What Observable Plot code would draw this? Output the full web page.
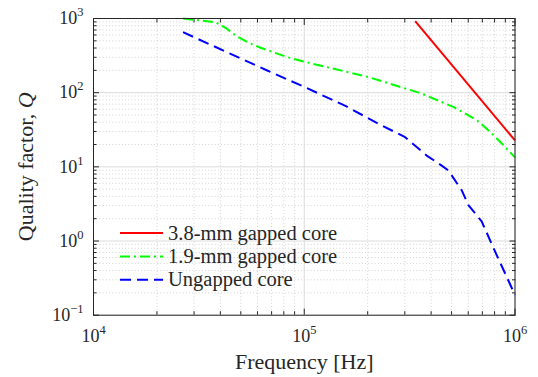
<!DOCTYPE html>
<html><head><meta charset="utf-8">
<script src="https://cdn.jsdelivr.net/npm/d3@7"></script>
<script src="https://cdn.jsdelivr.net/npm/@observablehq/plot@0.6"></script>
<style>body{margin:0;background:#fff;}</style>
</head><body><div id="chart"></div>
<script>
// ---- data ----
const redF = [336e3, 1e6];
const redQ = [920, 22.7];
const greenF = [26.6e3, 31.2e3, 37.9e3, 42.3e3, 47.2e3, 53.8e3, 62e3, 83.3e3, 99.2e3, 202e3, 360e3, 512.6e3, 661.6e3, 765e3, 854e3, 1e6];
const greenQ = [1000, 949, 891, 750, 590, 480, 403, 301, 263, 162, 97.5, 63.8, 42.2, 29.4, 21.5, 13.4];
const blueF = [26.6e3, 66.7e3, 99.2e3, 158.6e3, 225e3, 301e3, 381e3, 449e3, 483e3, 559e3, 601e3, 696e3, 805e3, 1e6];
const blueQ = [654, 199, 121, 65.2, 38.1, 25.1, 14.2, 10.4, 8.94, 4.81, 3.05, 1.82, 0.718, 0.187];
const seriesNames = ["3.8-mm gapped core", "1.9-mm gapped core", "Ungapped core"];

const xMajor = [1e4, 1e5, 1e6];
const xTickLabels = ["10^4", "10^5", "10^6"];
const yMajor = [0.1, 1, 10, 100, 1000];
const yTickLabels = ["10^-1", "10^0", "10^1", "10^2", "10^3"];
const minorMult = [2, 3, 4, 5, 6, 7, 8, 9];
const xMinor = xMajor.slice(0, -1).flatMap(d => minorMult.map(k => k * d));
const yMinor = yMajor.slice(0, -1).flatMap(d => minorMult.map(k => k * d));

const toRows = (F, Q) => F.map((f, i) => ({f, q: Q[i]}));
const styles = [
  {color: "#ff0000", dash: null},
  {color: "#00ff00", dash: "10,4,2,4"},
  {color: "#0000ff", dash: "11,6"}
];
const seriesRows = [toRows(redF, redQ), toRows(greenF, greenQ), toRows(blueF, blueQ)];

const FONT = "Liberation Serif";
const AX = "#262626";

const tickOnly = (k, anchor, ticks, size) =>
  (k === "x" ? Plot.axisX : Plot.axisY)(ticks, {anchor, tickSize: -size, tickFormat: () => "", label: null, stroke: AX, strokeWidth: 1});

const chart = Plot.plot({
  width: 538, height: 377,
  marginLeft: 93, marginRight: 23.5, marginTop: 18, marginBottom: 62.3,
  style: {fontFamily: FONT, fontSize: "18px", color: AX, background: "white"},
  x: {type: "log", domain: [1e4, 1e6], axis: null},
  y: {type: "log", domain: [0.1, 1000], axis: null},
  marks: [
    Plot.gridX(xMinor, {stroke: "#c8c8c8", strokeOpacity: 1, strokeWidth: 0.8, strokeDasharray: "1,2.2"}),
    Plot.gridY(yMinor, {stroke: "#c8c8c8", strokeOpacity: 1, strokeWidth: 0.8, strokeDasharray: "1,2.2"}),
    Plot.gridX(xMajor, {stroke: "#dcdcdc", strokeOpacity: 1, strokeWidth: 1}),
    Plot.gridY(yMajor, {stroke: "#dcdcdc", strokeOpacity: 1, strokeWidth: 1}),
    ...seriesRows.map((rows, i) => Plot.line(rows, {
      x: "f", y: "q", stroke: styles[i].color, strokeWidth: 2,
      strokeDasharray: styles[i].dash, strokeLinecap: "butt"
    })),
    Plot.frame({stroke: AX, strokeWidth: 1}),
    tickOnly("x", "bottom", xMajor, 6), tickOnly("x", "top", xMajor, 6),
    tickOnly("x", "bottom", xMinor, 3.5), tickOnly("x", "top", xMinor, 3.5),
    tickOnly("y", "left", yMajor, 6), tickOnly("y", "right", yMajor, 6),
    tickOnly("y", "left", yMinor, 3.5), tickOnly("y", "right", yMinor, 3.5),
    Plot.axisX(xMajor, {anchor: "bottom", tickSize: 0, tickPadding: 14, label: null, fontSize: 18,
      tickFormat: d => xTickLabels[xMajor.indexOf(d)]}),
    Plot.axisY(yMajor, {anchor: "left", tickSize: 0, tickPadding: 10, label: null, fontSize: 18,
      tickFormat: d => yTickLabels[yMajor.indexOf(d)]}),
    Plot.text(["Frequency [Hz]"], {text: d => d, frameAnchor: "bottom", dy: 47, lineAnchor: "middle",
      textAnchor: "middle", fontSize: 22, fill: AX}),
    Plot.text(["Quality factor, Q"], {text: d => d, frameAnchor: "left", dx: -68, rotate: -90,
      textAnchor: "middle", lineAnchor: "middle", fontSize: 22, fill: AX})
  ]
});
document.getElementById("chart").appendChild(chart);

// superscripts for tick labels
const svg = d3.select(chart);
svg.selectAll('g[aria-label$="tick label"] text').each(function() {
  const s = this.textContent;
  if (!s.includes("^")) return;
  const [base, exp] = s.split("^");
  this.textContent = base;
  d3.select(this).append("tspan").attr("dy", "-8").attr("font-size", "12.5px")
    .text(exp.replace("-", "\u2212"));
});
// italic Q in y label
svg.selectAll("text").each(function() {
  if (this.textContent === "Quality factor, Q") {
    this.textContent = "Quality factor, ";
    d3.select(this).append("tspan").attr("font-style", "italic").text("Q");
  }
});

// legend (inside the axes, no box)
const leg = svg.append("g").attr("font-family", FONT).attr("font-size", "20.5px").attr("text-anchor", "start");
seriesNames.forEach((name, i) => {
  const y = 233 + i * 23.4;
  leg.append("line").attr("x1", 120).attr("x2", 163).attr("y1", y).attr("y2", y)
    .attr("stroke", styles[i].color).attr("stroke-width", 2)
    .attr("stroke-dasharray", styles[i].dash);
  leg.append("text").attr("x", 168).attr("y", y).attr("dy", "0.32em")
    .attr("fill", AX).text(name);
});
</script></body></html>
